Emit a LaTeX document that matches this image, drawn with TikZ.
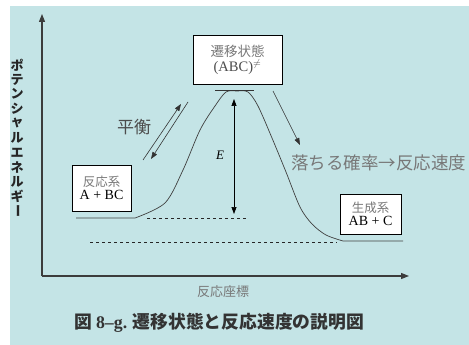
\documentclass[tikz,border=0pt]{standalone}
\usepackage{fontspec}
\setmainfont{Liberation Serif}
\newfontfamily\jp{Noto Sans CJK JP}
\usetikzlibrary{arrows.meta}
\definecolor{bgc}{RGB}{196,228,230}
\definecolor{txtgray}{RGB}{120,120,120}
\definecolor{axisc}{RGB}{60,60,60}
\tikzset{
  statebox/.style={draw=black, line width=0.8pt, fill=white, inner sep=0pt, align=center},
  axisline/.style={draw=axisc, line width=1.1pt, -{Triangle[length=8pt,width=6pt]}},
  thinarrow/.style={draw=black!80, line width=0.6pt, -{Triangle[length=7pt,width=5pt]}},
  dashline/.style={draw=black!85, line width=0.6pt, dash pattern=on 3pt off 3pt},
  curveline/.style={draw=black!75, line width=0.7pt},
  ylab/.style={font=\jp\bfseries\fontsize{13}{13}\selectfont, inner sep=0pt, text=black!85},
}
\begin{document}
\begin{tikzpicture}[x=1pt,y=-1pt]
\useasboundingbox (0,0) rectangle (469,345);
\fill[bgc] (10,6) rectangle (469,345);
% axes
\coordinate (O) at (42,276);
\coordinate (ytip) at (42,14);
\coordinate (xtip) at (409,276);
\draw[axisline] (O) -- (ytip);
\draw[axisline] (O) -- (xtip);
% y label vertical
\foreach \c [count=\i from 0] in {ポ,テ,ン,シ,ャ,ル,エ,ネ,ル,ギ} {
  \node[ylab] (yl\i) at (17,{65+14.6*\i}) {\c};
}
\node[ylab, rotate=-90] (yl10) at (17,211) {ー};
% x label
\node[font=\jp\fontsize{13}{13}\selectfont, text=txtgray, inner sep=0pt] (xlab) at (223,292) {反応座標};
% caption
\node[font=\jp\bfseries\fontsize{17.8}{18}\selectfont, text=black!80, inner sep=0pt, anchor=west] (cap) at (74,323) {図 {\rmfamily\bfseries 8–g.} 遷移状態と反応速度の説明図};
% boxes
\node[statebox, minimum width=89pt, minimum height=49pt] (ts) at (237.5,59.5)
  {{\jp\fontsize{13.5}{15}\selectfont\color{txtgray}遷移状態}\\[1pt]{\fontsize{14.5}{15}\selectfont\color{black!70}(ABC)$^{\neq}$}};
\node[statebox, minimum width=59pt, minimum height=46pt] (react) at (101.5,188)
  {{\jp\fontsize{12.5}{14}\selectfont\color{txtgray}反応系}\\[1pt]{\fontsize{14}{15}\selectfont A + BC}};
\node[statebox, minimum width=61pt, minimum height=40pt] (prod) at (370.5,214)
  {{\jp\fontsize{12.5}{14}\selectfont\color{txtgray}生成系}\\[1pt]{\fontsize{14}{15}\selectfont AB + C}};
% dashed levels
\coordinate (d1a) at (147,218); \coordinate (d1b) at (248,218);
\coordinate (d2a) at (90,242); \coordinate (d2b) at (337,242);
\draw[dashline] (d1a) -- (d1b);
\draw[dashline] (d2a) -- (d2b);
% energy curve
\draw[curveline] (76,218) -- (135,218)
  plot[smooth, tension=0.5] coordinates {(135,218) (165,203) (183,170) (200,130) (215,106) (226,92) (237,91) (248,92) (258,106) (272,138) (286,172) (300,207) (312,224) (326,235) (343,241)}
  -- (403,241);
\coordinate (tsl) at (215,90); \coordinate (tsr) at (254,90);
\draw[black!80, line width=0.6pt] (tsl) -- (tsr);
% E arrow
\coordinate (Etop) at (234,99); \coordinate (Ebot) at (234,214);
\draw[draw=black, line width=0.7pt, {Triangle[length=7pt,width=5pt]}-{Triangle[length=7pt,width=5pt]}] (Ebot) -- (Etop);
\node[font=\itshape\fontsize{13}{13}\selectfont, inner sep=0pt] (Elab) at (220,155) {E};
% equilibrium arrows
\coordinate (eq1a) at (143,160); \coordinate (eq1b) at (181,104);
\coordinate (eq2a) at (188,102); \coordinate (eq2b) at (151,159);
\draw[thinarrow] (eq1a) -- (eq1b);
\draw[thinarrow] (eq2a) -- (eq2b);
\node[font=\jp\fontsize{17}{17}\selectfont, text=black!70, inner sep=0pt] (eqlab) at (134,127) {平衡};
% falling arrow
\coordinate (fa) at (273,91); \coordinate (fb) at (300,145);
\draw[thinarrow] (fa) -- (fb);
\node[font=\jp\fontsize{17.5}{17.5}\selectfont, text=txtgray, inner sep=0pt, anchor=west] (falllab) at (291,163) {落ちる確率→反応速度};
\end{tikzpicture}
\end{document}
